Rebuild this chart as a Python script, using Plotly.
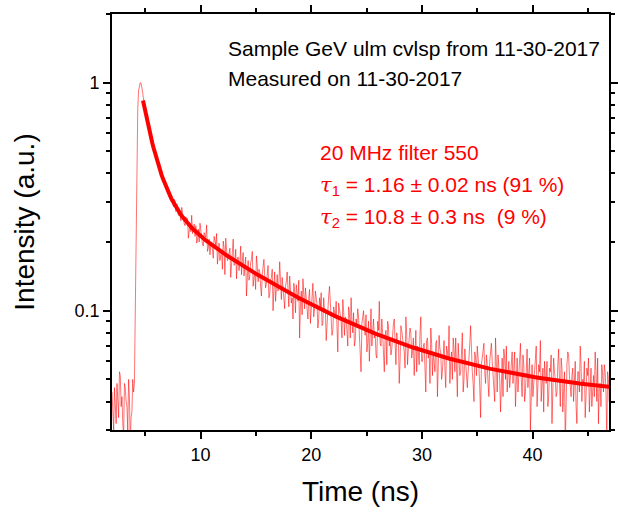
import numpy as np
import plotly.graph_objects as go

# Photon counts per TCSPC channel (peak-normalised below)
t_start = 2.0
channel_ns = 0.075
counts = [
    22, 18, 15, 23, 19, 16, 24, 20, 17, 27, 26, 19, 21, 16, 14, 24, 23, 20, 19, 15,
    25, 21, 13, 17, 18, 25, 22, 24, 48, 140, 265, 380, 462, 492, 500, 497, 481, 452, 420, 392,
    371, 361, 349, 330, 322, 311, 296, 284, 279, 270, 258, 249, 245, 240, 226, 221, 219, 208, 204, 203,
    199, 188, 190, 185, 174, 171, 173, 172, 162, 158, 161, 159, 160, 147, 143, 154, 151, 136, 147, 141,
    131, 140, 126, 124, 142, 133, 131, 120, 118, 129, 125, 127, 104, 113, 121, 111, 131, 109, 117, 120,
    106, 118, 99, 102, 114, 100, 121, 112, 101, 98, 96, 110, 107, 105, 119, 91, 94, 103, 88, 99,
    100, 91, 85, 106, 102, 97, 109, 80, 89, 99, 83, 88, 92, 76, 101, 95, 72, 104, 92, 83,
    85, 90, 94, 70, 78, 88, 103, 79, 80, 93, 69, 84, 86, 75, 81, 96, 72, 82, 90, 71,
    82, 86, 58, 73, 83, 68, 71, 81, 84, 91, 64, 70, 74, 62, 87, 79, 67, 76, 74, 64,
    58, 72, 77, 84, 71, 63, 66, 71, 79, 57, 59, 68, 70, 76, 50, 62, 74, 55, 69, 72,
    61, 66, 82, 58, 56, 70, 63, 55, 51, 64, 67, 74, 60, 52, 71, 62, 54, 57, 46, 66,
    61, 49, 65, 60, 55, 68, 38, 53, 61, 48, 69, 59, 51, 63, 56, 50, 46, 57, 62, 44,
    49, 58, 66, 47, 51, 61, 54, 53, 42, 46, 57, 52, 60, 43, 44, 57, 50, 51, 37, 45,
    53, 58, 64, 49, 46, 39, 41, 52, 50, 47, 55, 41, 33, 54, 50, 49, 45, 38, 56, 50,
    39, 47, 46, 41, 35, 52, 49, 38, 57, 45, 40, 49, 35, 37, 46, 43, 51, 47, 40, 36,
    27, 44, 46, 50, 42, 39, 48, 33, 36, 45, 30, 41, 51, 35, 42, 46, 38, 40, 32, 31,
    45, 41, 55, 36, 35, 46, 40, 33, 27, 39, 41, 29, 45, 43, 35, 38, 32, 34, 41, 44,
    46, 31, 29, 40, 36, 37, 24, 30, 43, 41, 38, 36, 33, 28, 47, 39, 29, 34, 37, 42,
    40, 31, 33, 38, 26, 36, 41, 27, 35, 33, 29, 40, 47, 30, 30, 35, 36, 28, 22, 37,
    38, 31, 33, 24, 42, 36, 26, 33, 30, 27, 36, 37, 21, 29, 39, 34, 33, 25, 27, 32,
    37, 28, 23, 35, 33, 31, 43, 24, 30, 33, 25, 38, 34, 27, 38, 30, 21, 36, 32, 26,
    27, 31, 40, 22, 25, 34, 30, 29, 23, 27, 34, 36, 43, 30, 27, 24, 20, 33, 31, 26,
    35, 31, 28, 23, 17, 29, 32, 34, 36, 27, 24, 32, 29, 24, 21, 30, 33, 36, 30, 26,
    24, 20, 38, 29, 22, 32, 27, 25, 18, 28, 31, 21, 34, 31, 25, 35, 22, 26, 30, 23,
    25, 29, 33, 24, 28, 33, 19, 27, 31, 22, 25, 30, 36, 25, 21, 32, 29, 20, 22, 27,
    34, 23, 26, 31, 15, 26, 29, 21, 24, 29, 31, 35, 19, 24, 29, 27, 37, 20, 23, 28,
    18, 30, 26, 24, 30, 19, 21, 28, 27, 32, 16, 23, 31, 27, 25, 21, 22, 29, 34, 25,
    19, 31, 28, 18, 24, 27, 13, 23, 29, 33, 32, 26, 22, 21, 26, 28, 20, 24, 30, 19,
    16, 27, 27, 22, 35, 29, 20, 25, 24, 30, 17, 21, 28, 26, 31, 18, 23, 28, 19, 24,
    26, 21, 33, 27, 20, 31, 16, 23, 24, 19, 29, 26, 22, 29, 27, 22, 14, 27, 25, 20,
    28,
]

# Bi-exponential fit (lifetimes as quoted in the legend text)
tau1, tau2 = 1.16, 10.8
fit_t0 = 4.8
amp1, amp2, background = 0.526, 0.268, 0.041

time = t_start + channel_ns * np.arange(len(counts))
intensity = np.array(counts, dtype=float) / max(counts)

fit_t = np.linspace(fit_t0, 47.0, 400)
fit_y = (amp1 * np.exp(-(fit_t - fit_t0) / tau1)
         + amp2 * np.exp(-(fit_t - fit_t0) / tau2) + background)

fig = go.Figure()
fig.add_trace(go.Scatter(
    x=time, y=intensity, mode="lines",
    line=dict(color="rgba(255,0,0,0.55)", width=1),
    showlegend=False, hoverinfo="skip",
))
fig.add_trace(go.Scatter(
    x=fit_t, y=fit_y, mode="lines",
    line=dict(color="#ff0000", width=4),
    showlegend=False, hoverinfo="skip",
))

font_family = "Liberation Sans, Arial, sans-serif"

fig.update_layout(
    width=618, height=515,
    margin=dict(l=112, r=0, t=14, b=85),
    paper_bgcolor="white", plot_bgcolor="white",
    font=dict(family=font_family, color="black"),
    xaxis=dict(
        range=[2, 46.9],
        tickvals=[10, 20, 30, 40],
        ticks="outside", ticklen=7, tickwidth=1.5, tickcolor="black",
        minor=dict(tickvals=[5, 15, 25, 35, 45], ticks="outside",
                   ticklen=4, tickwidth=1.5, tickcolor="black"),
        showline=True, linewidth=1.8, linecolor="black", mirror="ticks",
        showgrid=False, zeroline=False,
        tickfont=dict(size=18),
        title=dict(text="Time (ns)", font=dict(size=28), standoff=18),
    ),
    yaxis=dict(
        type="log",
        range=[np.log10(0.03), np.log10(2.0)],
        tickvals=[0.1, 1], ticktext=["0.1", "1"],
        ticks="outside", ticklen=7, tickwidth=1.5, tickcolor="black",
        minor=dict(tickvals=[0.03, 0.04, 0.05, 0.06, 0.07, 0.08, 0.09,
                             0.2, 0.3, 0.4, 0.5, 0.6, 0.7, 0.8, 0.9, 2],
                   ticks="outside", ticklen=4, tickwidth=1.5,
                   tickcolor="black"),
        showline=True, linewidth=1.8, linecolor="black", mirror="ticks",
        showgrid=False, zeroline=False,
        tickfont=dict(size=18),
        title=dict(text="Intensity (a.u.)", font=dict(size=28), standoff=32),
    ),
)

tau = "<span style=\"font-family:'DejaVu Serif'\"><i>τ</i></span>"
notes = [
    ("Sample GeV ulm cvlsp from 11-30-2017", 0.229, 0.918, "black"),
    ("Measured on 11-30-2017", 0.229, 0.844, "black"),
    ("20 MHz filter 550", 0.415, 0.666, "#ff0000"),
    (tau + "<sub>1</sub> = 1.16 ± 0.02 ns (91 %)", 0.415, 0.587, "#ff0000"),
    (tau + "<sub>2</sub> = 10.8 ± 0.3 ns \u00a0(9 %)", 0.415, 0.510, "#ff0000"),
]
for text, x, y, color in notes:
    fig.add_annotation(
        text=text, x=x, y=y, xref="paper", yref="paper",
        xanchor="left", yanchor="middle", showarrow=False,
        font=dict(size=21, color=color, family=font_family),
    )

fig.write_html("out.html")
